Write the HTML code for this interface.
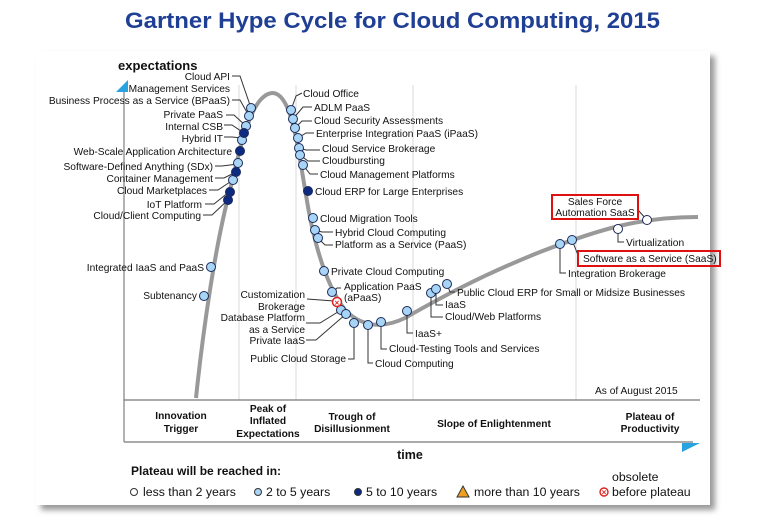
<!DOCTYPE html>
<html><head><meta charset="utf-8"><style>
body{margin:0;background:#fff;width:770px;height:525px;overflow:hidden}
text{font-family:"Liberation Sans",Arial,sans-serif;font-size:10.2px;fill:#111}
.b{font-weight:bold}
</style></head><body>
<svg width="770" height="525" viewBox="0 0 770 525">
<defs><filter id="sh" x="-5%" y="-5%" width="115%" height="115%"><feGaussianBlur stdDeviation="3"/></filter></defs>
<text x="125" y="28" textLength="535" lengthAdjust="spacingAndGlyphs" style="font-size:22px;font-weight:bold;fill:#1f3f94">Gartner Hype Cycle for Cloud Computing, 2015</text>
<rect x="41" y="56" width="674" height="454" fill="#999" filter="url(#sh)"/>
<rect x="36" y="51" width="674" height="454" fill="#fff"/>
<g stroke="#d8d8d8" stroke-width="1">
<line x1="239" y1="85" x2="239" y2="400"/><line x1="296" y1="85" x2="296" y2="400"/>
<line x1="413" y1="85" x2="413" y2="400"/><line x1="576" y1="85" x2="576" y2="400"/>
</g>
<line x1="124" y1="88" x2="124" y2="442" stroke="#999" stroke-width="1.5"/>
<polygon points="116,92 128,80 128,92" fill="#29a3e0"/>
<line x1="124" y1="400" x2="700" y2="400" stroke="#777" stroke-width="1.3"/>
<line x1="124" y1="442" x2="693" y2="442" stroke="#777" stroke-width="1.3"/>
<polygon points="682,443 700,443 682,452" fill="#29a3e0"/>
<text x="118" y="70" class="b" style="font-size:13px">expectations</text>
<path d="M196,398 C202,340 214,250 230,190 C242,140 252,95 272,93 C292,92 298,150 306,195 C314,245 326,285 345,310 C360,325 380,330 405,318 C440,298 480,276 540,252 C600,229 640,217 698,217" fill="none" stroke="#999" stroke-width="4"/>
<g stroke="#333" stroke-width="1" fill="none">
<path d="M232,76 L240,76 L251,108"/><path d="M232,100 L240,100 L249,116"/>
<path d="M226,115 L234,115 L246,126"/><path d="M224,125 L232,125 L244,133"/>
<path d="M224,137 L232,137 L242,138"/><path d="M215,166 L222,166 L238,164"/>
<path d="M215,178 L224,178 L236,172"/><path d="M209,190 L218,190 L233,180"/>
<path d="M205,204 L214,204 L229,192"/><path d="M203,215 L212,215 L228,200"/>
<path d="M291,110 L296,96 L302,93"/><path d="M293,119 L303,107 L312,107"/>
<path d="M295,128 L302,121 L312,121"/><path d="M298,138 L306,133 L314,133"/>
<path d="M299,148 L306,150 L320,150"/><path d="M300,155 L308,161 L320,161"/>
<path d="M303,165 L310,174 L318,174"/><path d="M315,230 L322,232 L333,232"/>
<path d="M318,238 L325,245 L333,245"/><path d="M332,293 L337,288 L341,288"/>
<path d="M307,299 L334,301"/><path d="M306,323 L320,323 L341,310"/>
<path d="M306,340 L316,340 L346,314"/><path d="M348,359 L354,359 L354,323"/>
<path d="M368,325 L368,363 L373,363"/><path d="M381,322 L381,349 L387,349"/>
<path d="M407,311 L407,333 L413,333"/><path d="M431,293 L431,317 L443,317"/>
<path d="M436,289 L436,305 L443,305"/><path d="M447,284 L450,292 L455,292"/>
<path d="M560,244 L560,273 L566,273"/><path d="M572,240 L578,255"/>
<path d="M618,229 L618,242 L624,242"/><path d="M647,220 L638,210"/>
</g>
<g stroke="#1a2a5a" stroke-width="1">
<g fill="#a8d4f5">
<circle cx="251" cy="108" r="4.5"/><circle cx="249" cy="116" r="4.5"/><circle cx="246" cy="126" r="4.5"/>
<circle cx="242" cy="140" r="4.5"/><circle cx="238" cy="163" r="4.5"/><circle cx="233" cy="180" r="4.5"/>
<circle cx="211" cy="267" r="4.5"/><circle cx="204" cy="296" r="4.5"/>
<circle cx="291" cy="110" r="4.5"/><circle cx="293" cy="119" r="4.5"/><circle cx="295" cy="128" r="4.5"/>
<circle cx="298" cy="138" r="4.5"/><circle cx="299" cy="148" r="4.5"/><circle cx="300" cy="155" r="4.5"/>
<circle cx="303" cy="165" r="4.5"/><circle cx="313" cy="218" r="4.5"/><circle cx="315" cy="230" r="4.5"/>
<circle cx="318" cy="238" r="4.5"/><circle cx="324" cy="271" r="4.5"/><circle cx="332" cy="292" r="4.5"/>
<circle cx="341" cy="310" r="4.5"/><circle cx="346" cy="314" r="4.5"/><circle cx="354" cy="323" r="4.5"/>
<circle cx="368" cy="325" r="4.5"/><circle cx="381" cy="322" r="4.5"/><circle cx="407" cy="311" r="4.5"/>
<circle cx="431" cy="293" r="4.5"/><circle cx="436" cy="289" r="4.5"/><circle cx="447" cy="284" r="4.5"/>
<circle cx="560" cy="244" r="4.5"/><circle cx="572" cy="240" r="4.5"/>
</g>
<g fill="#fff"><circle cx="618" cy="229" r="4.5"/><circle cx="647" cy="220" r="4.5"/></g>
<g fill="#0d2a80">
<circle cx="244" cy="133" r="4.5"/><circle cx="240" cy="151" r="4.5"/><circle cx="236" cy="172" r="4.5"/>
<circle cx="230" cy="192" r="4.5"/><circle cx="228" cy="200" r="4.5"/><circle cx="308" cy="191" r="4.5"/>
</g></g>
<circle cx="337" cy="302" r="4.5" fill="#fff" stroke="#e02020" stroke-width="1.5"/>
<text x="337" y="305.5" text-anchor="middle" style="font-size:8px;fill:#e02020;font-weight:bold">×</text>
<g text-anchor="end">
<text x="230" y="80">Cloud API</text><text x="230" y="92">Management Services</text>
<text x="230" y="104">Business Process as a Service (BPaaS)</text>
<text x="223" y="118">Private PaaS</text><text x="223" y="130">Internal CSB</text>
<text x="223" y="142">Hybrid IT</text><text x="232" y="155">Web-Scale Application Architecture</text>
<text x="213" y="170">Software-Defined Anything (SDx)</text><text x="213" y="182">Container Management</text>
<text x="207" y="194">Cloud Marketplaces</text><text x="202" y="208">IoT Platform</text>
<text x="201" y="219">Cloud/Client Computing</text>
<text x="204" y="271">Integrated IaaS and PaaS</text><text x="197" y="299">Subtenancy</text>
<text x="305" y="298">Customization</text><text x="305" y="310">Brokerage</text>
<text x="305" y="321">Database Platform</text><text x="305" y="333">as a Service</text>
<text x="305" y="344">Private IaaS</text><text x="346" y="362">Public Cloud Storage</text>
</g>
<text x="303" y="97">Cloud Office</text><text x="314" y="111">ADLM PaaS</text>
<text x="314" y="124">Cloud Security Assessments</text><text x="316" y="137">Enterprise Integration PaaS (iPaaS)</text>
<text x="322" y="152">Cloud Service Brokerage</text><text x="322" y="164">Cloudbursting</text>
<text x="320" y="178">Cloud Management Platforms</text><text x="315" y="195">Cloud ERP for Large Enterprises</text>
<text x="320" y="222">Cloud Migration Tools</text><text x="335" y="236">Hybrid Cloud Computing</text>
<text x="335" y="248">Platform as a Service (PaaS)</text><text x="331" y="275">Private Cloud Computing</text>
<text x="344" y="290">Application PaaS</text><text x="344" y="301">(aPaaS)</text>
<text x="375" y="367">Cloud Computing</text><text x="389" y="352">Cloud-Testing Tools and Services</text>
<text x="415" y="337">IaaS+</text><text x="445" y="320">Cloud/Web Platforms</text>
<text x="445" y="308">IaaS</text><text x="457" y="296">Public Cloud ERP for Small or Midsize Businesses</text>
<text x="568" y="277">Integration Brokerage</text><text x="626" y="246">Virtualization</text>
<rect x="578" y="251" width="142" height="15" fill="none" stroke="#e01010" stroke-width="2"/>
<text x="583" y="262">Software as a Service (SaaS)</text>
<rect x="552" y="195" width="86" height="24" fill="none" stroke="#e01010" stroke-width="2"/>
<text x="595" y="205" text-anchor="middle">Sales Force</text><text x="595" y="216" text-anchor="middle">Automation SaaS</text>
<text x="595" y="394">As of August 2015</text>
<g text-anchor="middle">
<text x="181" y="419" class="b">Innovation</text><text x="181" y="432" class="b">Trigger</text>
<text x="268" y="412" class="b">Peak of</text><text x="268" y="424" class="b">Inflated</text><text x="268" y="437" class="b">Expectations</text>
<text x="352" y="420" class="b">Trough of</text><text x="352" y="432" class="b">Disillusionment</text>
<text x="494" y="427" class="b">Slope of Enlightenment</text>
<text x="650" y="420" class="b">Plateau of</text><text x="650" y="432" class="b">Productivity</text>
<text x="410" y="459" class="b" style="font-size:12.5px">time</text>
</g>
<text x="131" y="475" class="b" style="font-size:12px">Plateau will be reached in:</text>
<circle cx="134" cy="492" r="3.5" fill="#fff" stroke="#333"/><text x="143" y="496" style="font-size:12.3px">less than 2 years</text>
<circle cx="258" cy="492" r="3.5" fill="#a8d4f5" stroke="#333"/><text x="266" y="496" style="font-size:12.3px">2 to 5 years</text>
<circle cx="358" cy="492" r="3.5" fill="#0d2a80" stroke="#333"/><text x="366" y="496" style="font-size:12.3px">5 to 10 years</text>
<polygon points="457,497 469,497 463,486" fill="#f0a020" stroke="#333"/><text x="474" y="496" style="font-size:12.3px">more than 10 years</text>
<text x="612" y="481" style="font-size:12.3px">obsolete</text>
<circle cx="604" cy="492" r="4" fill="#fff" stroke="#e02020" stroke-width="1.4"/>
<text x="604" y="495" text-anchor="middle" style="font-size:8px;fill:#e02020;font-weight:bold">×</text>
<text x="612" y="496" style="font-size:12.3px">before plateau</text>
</svg>
</body></html>
